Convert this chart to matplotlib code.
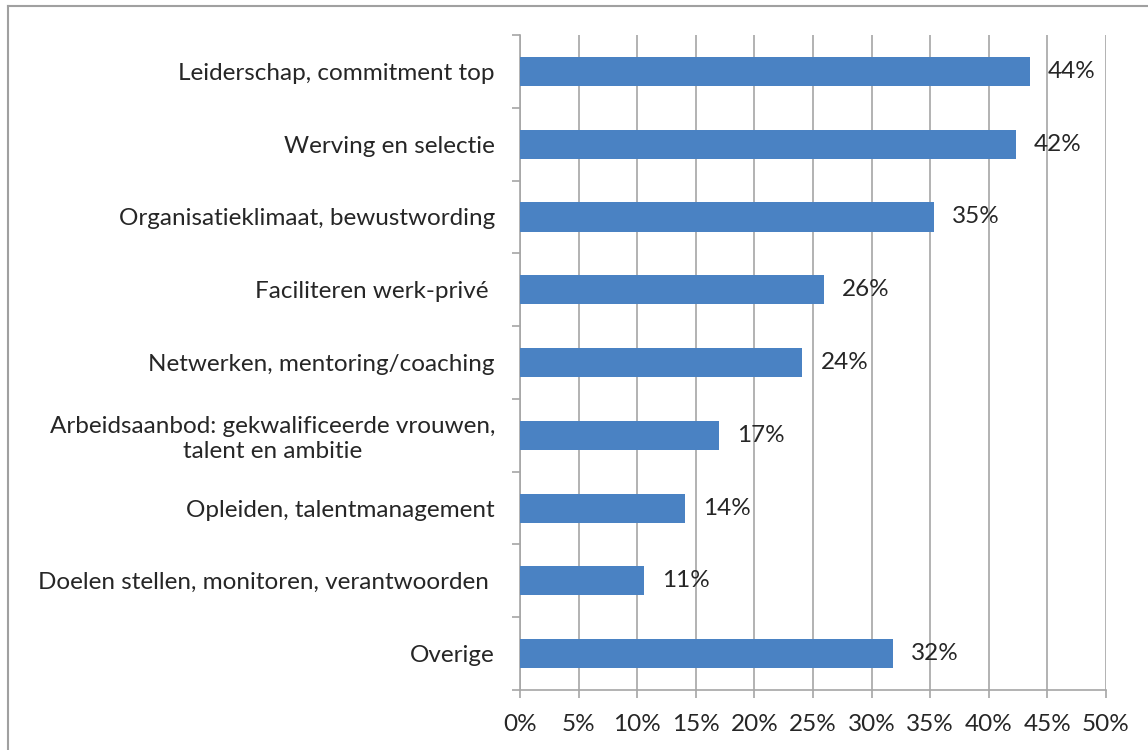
import numpy as np
import matplotlib
matplotlib.use('Agg')
import matplotlib.pyplot as plt
from matplotlib.lines import Line2D

# Data (top to bottom as in the chart)
categories = ['Leiderschap, commitment top',
              'Werving en selectie',
              'Organisatieklimaat, bewustwording',
              'Faciliteren werk-privé ',
              'Netwerken, mentoring/coaching',
              'Arbeidsaanbod: gekwalificeerde vrouwen,\ntalent en ambitie',
              'Opleiden, talentmanagement',
              'Doelen stellen, monitoren, verantwoorden ',
              'Overige']
values = [43.5, 42.3, 35.3, 25.9, 24.1, 17.0, 14.1, 10.6, 31.8]
value_labels = ['44%', '42%', '35%', '26%', '24%', '17%', '14%', '11%', '32%']
xticks = np.arange(0, 51, 5)

plt.rcParams['font.family'] = ['Lato', 'DejaVu Sans']
text_col = '#262626'
grid_col = '#a6a6a6'
bar_col = '#4a82c3'
fs = 17.5

fig = plt.figure(figsize=(11.48, 7.5), dpi=100)
ax = fig.add_axes([520/1148, 1-690/750, (1106-520)/1148, (690-35)/750])

y = np.arange(len(categories))[::-1]
ax.barh(y, values, height=0.4, color=bar_col, zorder=3)
for yi, v, lbl in zip(y, values, value_labels):
    ax.annotate(lbl, (v, yi), xytext=(13, 0), textcoords='offset points',
                va='center', ha='left', fontsize=fs, color=text_col, zorder=4)

ax.set_xlim(0, 50)
ax.set_ylim(-0.5, len(categories) - 0.5)
ax.set_xticks(xticks)
ax.set_xticklabels([f'{t}%' for t in xticks], fontsize=fs, color=text_col)
ax.set_yticks(y)
ax.set_yticklabels(categories, fontsize=fs, color=text_col, multialignment='center')
ax.set_yticks(np.arange(-0.5, len(categories), 1), minor=True)

ax.tick_params(axis='y', which='major', length=0, pad=18)
ax.tick_params(axis='y', which='minor', length=6, color=grid_col, width=1.2)
ax.tick_params(axis='x', length=6, color=grid_col, width=1.2, pad=11)

ax.xaxis.grid(True, color=grid_col, linewidth=1.2, zorder=0)
for s in ['top', 'right']:
    ax.spines[s].set_visible(False)
for s in ['left', 'bottom']:
    ax.spines[s].set_color(grid_col)
    ax.spines[s].set_linewidth(1.2)

# outer frame (cut off at right and bottom)
fig.add_artist(Line2D([8/1148, 1], [1-6/750, 1-6/750], color='#a0a0a0', lw=1.5))
fig.add_artist(Line2D([8/1148, 8/1148], [0, 1-6/750], color='#a0a0a0', lw=1.5))

fig.savefig('out.png', dpi=100)
